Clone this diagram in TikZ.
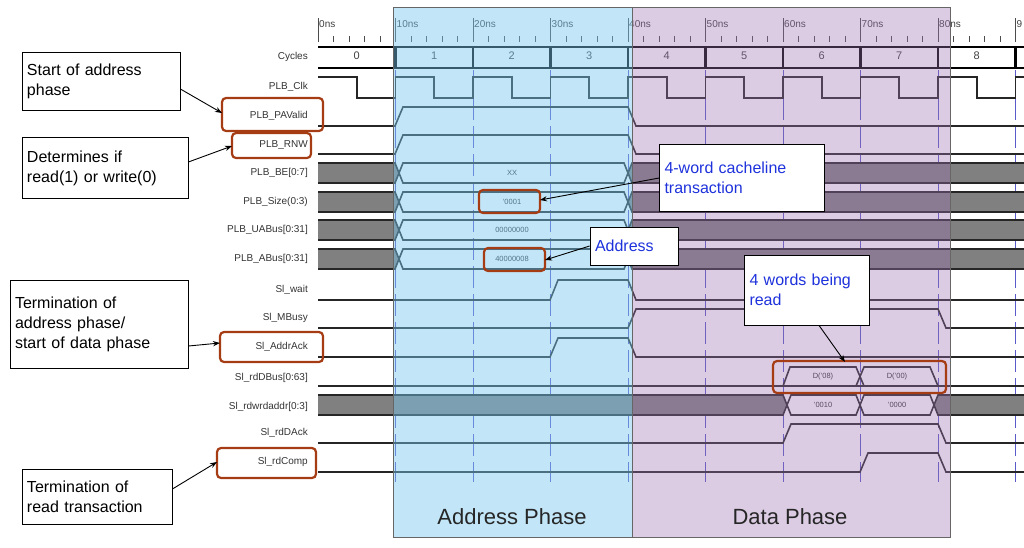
\documentclass[tikz,border=0pt]{standalone}
\usepackage{fontspec}
\setmainfont{Liberation Sans}
\usetikzlibrary{arrows.meta}
\definecolor{brn}{RGB}{165,60,20}
\definecolor{bluetxt}{RGB}{30,50,220}
\definecolor{ovblue}{RGB}{120,200,240}
\definecolor{ovpurp}{RGB}{156,114,179}
\definecolor{grid}{RGB}{90,90,200}
\begin{document}
\begin{tikzpicture}[x=1pt,y=-1pt,
  sig/.style={line width=1.6pt,black!85},
  lab/.style={anchor=east,font=\fontsize{10}{12}\selectfont,text=black!80,inner sep=1pt},
  val/.style={font=\fontsize{7.5}{9}\selectfont,text=black!80},
  hl/.style={draw=brn,line width=2.2pt,rounded corners=4pt},
  call/.style={draw=black,fill=white,line width=0.8pt,align=left,font=\fontsize{16}{20}\selectfont,inner sep=5pt},
  bcall/.style={call,text=bluetxt},
  arr/.style={-{Stealth[length=7pt]},line width=0.9pt}]
\useasboundingbox (0,0) rectangle (1024,547);
\begin{scope}
\clip (0,0) rectangle (1024,547);
% ruler
\foreach \t/\l in {0/0ns,10/10ns,20/20ns,30/30ns,40/40ns,50/50ns,60/60ns,70/70ns,80/80ns}{
  \draw[black!70,line width=0.6pt] ({318+7.75*\t},18) -- ({318+7.75*\t},42);
  \node[anchor=west,font=\fontsize{10}{11}\selectfont,text=black!75,inner sep=1pt] at ({318+7.75*\t},24) {\l};
}
\draw[black!70,line width=0.6pt] (1015.5,18) -- (1015.5,42);
\node[anchor=west,font=\fontsize{10}{11}\selectfont,text=black!75,inner sep=1pt] at (1015.5,24) {9};
\foreach \i in {1,...,45}{\draw[black!70,line width=0.6pt] ({318+7.75*2*\i},36) -- ({318+7.75*2*\i},42);}
% grid
\foreach \t in {10,20,...,90}{\draw[grid,line width=0.5pt,dash pattern=on 22pt off 6pt] ({318+7.75*\t},70) -- ({318+7.75*\t},482);}
% cycles
\draw[line width=2.4pt] (318,47) -- (1024,47) (318,68) -- (1024,68);
\foreach \t in {10,20,...,90}{\draw[line width=2.4pt] ({318+7.75*\t},47) -- ({318+7.75*\t},68);}
\foreach \c in {0,...,8}{\node[font=\fontsize{11}{12}\selectfont,text=black!75] at ({318+7.75*(10*\c+5)},56) {\c};}
% clock
\draw[sig] (318,77)
  \foreach \c in {0,...,9}{ -- ({318+77.5*\c},77) -- ({318+77.5*\c+38.75},77) -- ({318+77.5*\c+38.75},98) -- ({318+77.5*(\c+1)},98) -- ({318+77.5*(\c+1)},77)};
% PAValid, RNW
\draw[sig] (318,126) -- (395,126) -- (403,107) -- (628,107) -- (636,126) -- (1024,126);
\draw[sig] (318,154) -- (395,154) -- (403,135) -- (628,135) -- (636,154) -- (1024,154);
% buses
\foreach \yt/\v in {163/XX,192/'0001,220/00000000,249/40000008}{
  \fill[black!50] (318,\yt) -- (395,\yt) -- (399,\yt+10) -- (395,\yt+20) -- (318,\yt+20) -- cycle;
  \fill[black!50] (1024,\yt) -- (632,\yt) -- (628,\yt+10) -- (632,\yt+20) -- (1024,\yt+20) -- cycle;
  \draw[sig] (318,\yt) -- (395,\yt) -- (403,\yt+20) -- (624,\yt+20) -- (632,\yt) -- (1024,\yt);
  \draw[sig] (318,\yt+20) -- (395,\yt+20) -- (403,\yt) -- (624,\yt) -- (632,\yt+20) -- (1024,\yt+20);
  \node[val] at (512,\yt+10) {\v};
}
% Sl_wait
\draw[sig] (318,300) -- (550,300) -- (558,280) -- (628,280) -- (636,300) -- (1024,300);
% MBusy
\draw[sig] (318,328) -- (628,328) -- (636,309) -- (938,309) -- (946,328) -- (1024,328);
% AddrAck
\draw[sig] (318,357) -- (550,357) -- (558,338) -- (628,338) -- (636,357) -- (1024,357);
% rdDBus
\draw[sig] (318,386) -- (1024,386);
\draw[sig] (783,386) -- (790,367) -- (856,367) -- (864,386);
\draw[sig] (856,386) -- (864,367) -- (930,367) -- (938,386);
\node[val] at (823,377) {D('08)};
\node[val] at (897,377) {D('00)};
% rdwrdaddr
\fill[black!50] (318,395) -- (783,395) -- (787,405) -- (783,415) -- (318,415) -- cycle;
\fill[black!50] (1024,395) -- (938,395) -- (934,405) -- (938,415) -- (1024,415) -- cycle;
\draw[sig] (318,395) -- (783,395) -- (791,415) -- (856,415) -- (864,395) -- (930,395) -- (938,415) -- (1024,415);
\draw[sig] (318,415) -- (783,415) -- (791,395) -- (856,395) -- (864,415) -- (930,415) -- (938,395) -- (1024,395);
\node[val] at (823,405) {'0010};
\node[val] at (897,405) {'0000};
% rdDAck, rdComp
\draw[sig] (318,443) -- (783,443) -- (791,424) -- (938,424) -- (946,443) -- (1024,443);
\draw[sig] (318,472) -- (860,472) -- (868,453) -- (938,453) -- (946,472) -- (1024,472);
% overlays
\fill[ovblue,opacity=0.45] (393,7) rectangle (632,537);
\fill[ovpurp,opacity=0.36] (632,7) rectangle (950,537);
\draw[black!60,line width=0.7pt] (393,7) rectangle (632,537) (632,7) rectangle (950,537);
\end{scope}
\node[font=\fontsize{22}{26}\selectfont,text=black!85] (ap) at (512,517) {Address Phase};
\node[font=\fontsize{22}{26}\selectfont,text=black!85] (dp) at (790,517) {Data Phase};
% labels
\foreach \n/\y/\t in {cy/57/Cycles,clk/87/PLB\_Clk,pav/116/PLB\_PAValid,rnw/145/PLB\_RNW,be/173/PLB\_BE[0:7],sz/202/PLB\_Size(0:3),ua/230/PLB\_UABus[0:31],ab/259/PLB\_ABus[0:31],wt/290/Sl\_wait,mb/318/Sl\_MBusy,aa/347/Sl\_AddrAck,db/378/Sl\_rdDBus[0:63],wa/407/Sl\_rdwrdaddr[0:3],da/433/Sl\_rdDAck,rc/462/Sl\_rdComp}
  \node[lab] (l\n) at (309,\y) {\t};
% highlight boxes
\draw[hl] (222,98) rectangle (323,131);
\draw[hl] (232,133) rectangle (311,158);
\draw[hl] (220,332) rectangle (323,362);
\draw[hl] (217,448) rectangle (316,478);
\draw[hl] (479,190) rectangle (540,213);
\draw[hl] (484,248) rectangle (545,271);
\draw[hl] (773,361) rectangle (946,393);
\coordinate (hpav) at (222,113);
\coordinate (hrnw) at (232,146);
\coordinate (haa) at (220,343);
\coordinate (hrc) at (217,462);
\coordinate (hsz) at (540,200);
\coordinate (hab) at (545,260);
\coordinate (hdb) at (845,362);
% callouts
\node[call,minimum width=158pt,minimum height=58pt,text width=148pt] (c1) at (101,81) {Start of address\\phase};
\node[call,minimum width=166pt,minimum height=61pt,text width=156pt] (c2) at (105,168) {Determines if\\read(1) or write(0)};
\node[call,minimum width=178pt,minimum height=88pt,text width=168pt] (c3) at (99,324) {Termination of\\address phase/\\start of data phase};
\node[call,minimum width=150pt,minimum height=55pt,text width=140pt] (c4) at (97,497) {Termination of\\read transaction};
\node[bcall,minimum width=165pt,minimum height=67pt,text width=155pt] (b1) at (742,178) {4-word cacheline\\transaction};
\node[bcall,minimum width=88pt,minimum height=38pt,text width=78pt] (b2) at (634,246) {Address};
\node[bcall,minimum width=125pt,minimum height=70pt,text width=115pt] (b3) at (807,290) {4 words being\\read};
\draw[arr] (c1.east) ++(0,8) -- (hpav);
\draw[arr] (c2.east) ++(0,-6) -- (hrnw);
\draw[arr] (c3.east) ++(0,22) -- (haa);
\draw[arr] (c4.east) ++(0,-8) -- (hrc);
\draw[arr] (b1.west) -- (hsz);
\draw[arr] (b2.west) -- (hab);
\draw[arr] (b3.south) ++(12,0) -- (hdb);
\end{tikzpicture}
\end{document}
